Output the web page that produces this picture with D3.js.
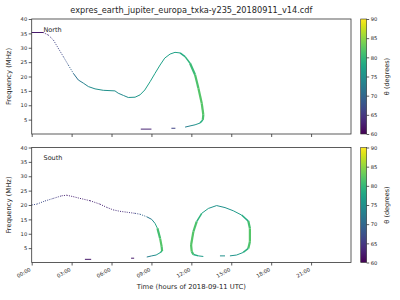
<!DOCTYPE html>
<html><head><meta charset="utf-8">
<script src="https://cdn.jsdelivr.net/npm/d3@7"></script>
<style>body{margin:0;background:#fff}svg{display:block;font-family:"DejaVu Sans",sans-serif}</style>
</head><body>
<svg id="c" width="400" height="300"></svg>
<script>
const title = "expres_earth_jupiter_europa_txka-y235_20180911_v14.cdf";
const xTickHours = [0,3,6,9,12,15,18,21];
const xTickLabels = ["00:00","03:00","06:00","09:00","12:00","15:00","18:00","21:00"];
const yTicks = [5,10,15,20,25,30,35,40];
const cTicks = [60,65,70,75,80,85,90];
// [time (h), frequency (MHz), theta (deg)]
const northMain = [[0,35.3,62],[0.87,35.3,62],[1.25,34.4,64],[1.63,32.7,66],[2.0,29.8,66],[2.38,26.9,67],[2.75,24.0,68],[3.13,21.1,70],[3.5,18.8,72],[3.88,17.7,73],[4.26,16.5,74],[4.76,15.7,75],[5.38,15.2,75],[6.26,15.0,75],[6.5,14.2,74],[6.9,13.4,74],[7.26,12.7,75],[7.77,12.8,76],[8.14,13.6,76],[8.5,15.3,77],[8.9,18.2,77],[9.27,21.1,77],[9.65,24.0,77],[10.0,26.4,77],[10.4,27.8,77],[10.77,28.4,77],[11.15,28.2,78],[11.53,26.9,79],[11.9,24.6,80],[12.28,20.6,81],[12.53,15.9,82],[12.78,10.7,82],[12.9,6.7,82],[12.86,4.9,81],[12.65,3.8,77],[12.28,3.2,75],[11.9,2.8,74],[11.53,2.4,72]];
const northLow1 = [[8.2,1.7,63],[9.0,1.7,63]];
const northLow2 = [[10.5,2.0,66],[10.8,2.0,66]];
const southMain = [[0,20.0,67],[0.38,20.3,67],[1.0,21.4,67],[1.63,22.3,66],[2.25,23.2,64],[2.63,23.4,62],[3.13,22.9,63],[3.63,22.3,63],[4.38,21.5,63],[5.13,20.3,63],[5.63,19.2,63],[6.13,18.3,64],[6.64,17.8,64],[7.14,17.5,63],[7.77,17.1,66],[8.14,16.8,68],[8.65,15.9,71],[9.02,15.0,73],[9.27,13.6,76],[9.45,11.9,80],[9.65,8.4,82],[9.77,5.5,82],[9.8,4.0,81],[9.65,3.4,78],[9.35,2.6,75],[9.02,2.3,74],[8.65,1.9,72]];
const southLow1 = [[4.0,1.1,62],[4.47,1.1,62]];
const southLow2 = [[7.47,1.5,62],[7.7,1.5,62]];
const southLoop = [[12.9,2.1,76],[12.53,2.3,77],[12.15,2.8,80],[12.03,3.8,82],[11.98,6.1,82],[12.15,10.7,82],[12.4,14.2,81],[12.78,17.1,78],[13.28,18.8,76],[13.9,19.8,75],[14.53,19.1,75],[15.15,18.0,76],[15.78,16.5,77],[16.28,14.4,80],[16.4,11.9,82],[16.4,7.2,82],[16.28,4.9,81],[15.9,3.5,77],[15.4,2.6,76],[14.9,2.3,75]];
const southLoopTail = [[14.53,2.3,75],[14.15,2.3,75]];

const panels = [
  {name:"North", top:19, series:[northMain,northLow1,northLow2], xlabels:false},
  {name:"South", top:147.5, series:[southMain,southLow1,southLow2,southLoop,southLoopTail], xlabels:true}
];
const svg = d3.select("#c");
const L = 31.7, R = 351, H = 115;
const x = d3.scaleLinear().domain([0,24]).range([L,R]);
const color = d3.scaleSequential(d3.interpolateViridis).domain([60,90]);
const txt = "#262626";

svg.append("text").attr("x",(L+R)/2).attr("y",13).attr("text-anchor","middle")
  .attr("font-size",8.2).attr("fill",txt).text(title);

panels.forEach(p=>{
  const y = d3.scaleLinear().domain([0,40]).range([p.top+H,p.top]);
  const g = svg.append("g");
  p.series.forEach(s=>{
    for(let i=0;i<s.length-1;i++){
      const a=s[i], b=s[i+1];
      const th=(a[2]+b[2])/2;
      const dotted = s.length>2 && th>62 && th<71;
      g.append("line").attr("x1",x(a[0])).attr("y1",y(a[1])).attr("x2",x(b[0])).attr("y2",y(b[1]))
        .attr("stroke",color(th)).attr("stroke-width", th>=80?2.2:(th>=78.5?1.5:1.0))
        .attr("stroke-dasharray", dotted?"1,1.3":null);
    }
  });
  g.append("rect").attr("x",L).attr("y",p.top).attr("width",R-L).attr("height",H)
    .attr("fill","none").attr("stroke","#333").attr("stroke-width",0.8);
  const ya = g.append("g").attr("transform",`translate(${L},0)`)
    .call(d3.axisLeft(y).tickValues(yTicks).tickSize(3).tickPadding(1.5));
  ya.select(".domain").remove();
  ya.selectAll("line").attr("stroke","#333").attr("stroke-width",0.8);
  ya.selectAll("text").attr("font-size",5.2).attr("fill",txt).attr("font-family","DejaVu Sans");
  const xa = g.append("g").attr("transform",`translate(0,${p.top+H})`)
    .call(d3.axisBottom(x).tickValues(xTickHours).tickSize(3).tickFormat((d,i)=>p.xlabels?xTickLabels[i]:""));
  xa.select(".domain").remove();
  xa.selectAll("line").attr("stroke","#333").attr("stroke-width",0.8);
  xa.selectAll("text").attr("font-size",5.2).attr("fill",txt).attr("font-family","DejaVu Sans")
    .attr("text-anchor","end").attr("dy",null).attr("y",0)
    .attr("transform","translate(-1,8) rotate(-30)");
  g.append("text").attr("transform",`translate(11,${p.top+H/2}) rotate(-90)`).attr("text-anchor","middle")
    .attr("font-size",6.8).attr("fill",txt).text("Frequency (MHz)");
  g.append("text").attr("x",43.5).attr("y",p.top+12.5).attr("font-size",6.5).attr("fill",txt).text(p.name);
  const cx = 360.7, cw = 6;
  const cy = d3.scaleLinear().domain([60,90]).range([p.top+H,p.top]);
  const gid = "grad"+p.name;
  const grad = svg.append("defs").append("linearGradient").attr("id",gid)
    .attr("x1",0).attr("y1",1).attr("x2",0).attr("y2",0);
  d3.range(0,1.0001,0.05).forEach(t=>grad.append("stop").attr("offset",t).attr("stop-color",d3.interpolateViridis(t)));
  g.append("rect").attr("x",cx).attr("y",p.top).attr("width",cw).attr("height",H).attr("fill",`url(#${gid})`)
    .attr("stroke","#333").attr("stroke-width",0.6);
  const ca = g.append("g").attr("transform",`translate(${cx+cw},0)`)
    .call(d3.axisRight(cy).tickValues(cTicks).tickSize(2.5).tickPadding(1.5));
  ca.select(".domain").remove();
  ca.selectAll("line").attr("stroke","#333").attr("stroke-width",0.8);
  ca.selectAll("text").attr("font-size",5.2).attr("fill",txt).attr("font-family","DejaVu Sans");
  g.append("text").attr("transform",`translate(389,${p.top+H/2}) rotate(-90)`).attr("text-anchor","middle")
    .attr("font-size",6.5).attr("fill",txt).text("θ (degrees)");
});
svg.append("text").attr("x",(L+R)/2).attr("y",289).attr("text-anchor","middle")
  .attr("font-size",6.8).attr("fill",txt).text("Time (hours of 2018-09-11 UTC)");
</script>
</body></html>
